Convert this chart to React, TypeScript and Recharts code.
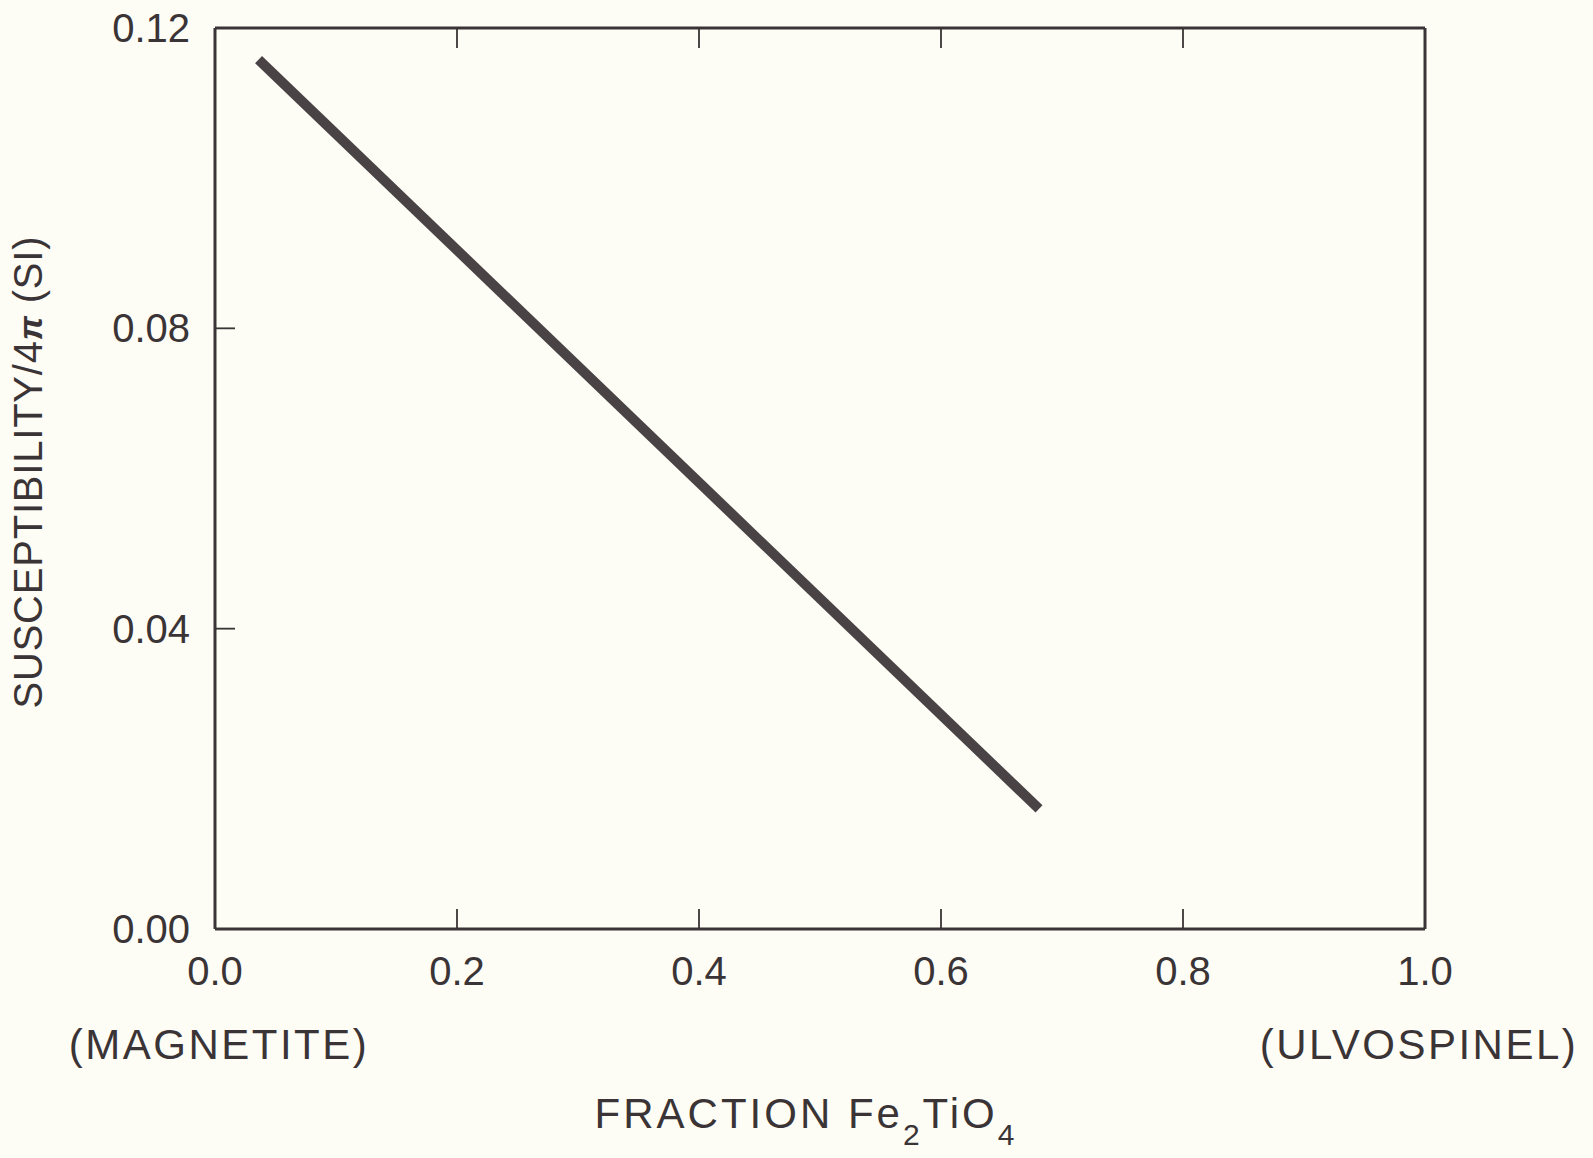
import { LineChart, Line, XAxis, YAxis } from 'recharts';

// values
const fraction = [0.036, 0.681];
const susceptibility = [0.1158, 0.016];
const xTicks = [0, 0.2, 0.4, 0.6, 0.8, 1.0];
const innerXTicks = [0.2, 0.4, 0.6, 0.8];
const yTicks = [0, 0.04, 0.08, 0.12];
const innerYTicks = [0.04, 0.08];
const endMemberNames: Record<string, string> = { '0': '(MAGNETITE)', '1': '(ULVOSPINEL)' };
const endMemberShift: Record<string, number> = { '0': 4, '1': -6 };

const data = fraction.map((x, i) => ({ x, y: susceptibility[i] }));

const INK = '#3b3436';
const LINE = '#4a4345';
const BG = '#fdfdf5';
const FONT = '"Liberation Sans", Arial, Helvetica, sans-serif';

const BottomTick = ({ x, y, payload }: any) => {
  const v = payload.value;
  const key = String(v);
  const name = endMemberNames[key];
  return (
    <g>
      {v > 0 && v < 1 && <line x1={x} x2={x} y1={y} y2={y - 20} stroke={INK} strokeWidth={1.8} />}
      <text x={x} y={y + 56} textAnchor="middle" fontSize={40} fill={INK} fontFamily={FONT}>
        {v.toFixed(1)}
      </text>
      {name && (
        <text
          x={x + endMemberShift[key]}
          y={y + 130}
          textAnchor="middle"
          fontSize={42}
          letterSpacing={2.5}
          fill={INK}
          fontFamily={FONT}
        >
          {name}
        </text>
      )}
    </g>
  );
};

const LeftTick = ({ x, y, payload }: any) => {
  const v = payload.value;
  return (
    <g>
      {v > 0 && v < 0.12 && <line x1={x} x2={x + 20} y1={y} y2={y} stroke={INK} strokeWidth={1.8} />}
      <text x={x - 25} y={y + 14} textAnchor="end" fontSize={40} fill={INK} fontFamily={FONT}>
        {v.toFixed(2)}
      </text>
    </g>
  );
};

const TopTick = ({ x, y }: any) => <line x1={x} x2={x} y1={y} y2={y + 20} stroke={INK} strokeWidth={1.8} />;

const RightTick = ({ x, y }: any) => <line x1={x} x2={x - 20} y1={y} y2={y} stroke={INK} strokeWidth={1.8} />;

const YTitle = ({ viewBox }: any) => {
  const cx = viewBox.x + 27;
  const cy = viewBox.y + viewBox.height / 2 - 6;
  return (
    <text
      transform={`rotate(-90 ${cx} ${cy})`}
      x={cx}
      y={cy + 15}
      textAnchor="middle"
      fontSize={40}
      fill={INK}
      fontFamily={FONT}
      textLength={472}
      lengthAdjust="spacing"
    >
      SUSCEPTIBILITY/4<tspan fontStyle="italic" fontWeight="bold" fontSize={34}>π</tspan> (SI)
    </text>
  );
};

const XTitle = ({ viewBox }: any) => {
  const cx = viewBox.x + viewBox.width / 2 - 14;
  const base = viewBox.y + 199;
  return (
    <text x={cx} y={base} textAnchor="middle" fontSize={42} letterSpacing={3} fill={INK} fontFamily={FONT}>
      FRACTION Fe<tspan fontSize={30} dy={17}>2</tspan>
      <tspan dy={-17}>TiO</tspan>
      <tspan fontSize={30} dy={17}>4</tspan>
    </text>
  );
};

export default function App() {
  return (
    <div style={{ position: 'fixed', top: 0, left: 0, width: 1593, height: 1158, background: BG }}>
      <LineChart width={1593} height={1158} data={data} margin={{ top: 27, right: 167, bottom: 0, left: 0 }}>
        <XAxis
          dataKey="x"
          type="number"
          domain={[0, 1]}
          ticks={xTicks}
          height={229}
          tickSize={0}
          tickMargin={0}
          tickLine={false}
          tick={<BottomTick />}
          axisLine={{ stroke: INK, strokeWidth: 3 }}
          label={<XTitle />}
          interval={0}
        />
        <XAxis
          xAxisId="top"
          orientation="top"
          type="number"
          domain={[0, 1]}
          ticks={innerXTicks}
          height={1}
          tickSize={0}
          tickMargin={0}
          tickLine={false}
          tick={<TopTick />}
          axisLine={{ stroke: INK, strokeWidth: 3 }}
          interval={0}
        />
        <YAxis
          type="number"
          domain={[0, 0.12]}
          ticks={yTicks}
          width={215}
          tickSize={0}
          tickMargin={0}
          tickLine={false}
          tick={<LeftTick />}
          axisLine={{ stroke: INK, strokeWidth: 3 }}
          label={<YTitle />}
          interval={0}
        />
        <YAxis
          yAxisId="right"
          orientation="right"
          type="number"
          domain={[0, 0.12]}
          ticks={innerYTicks}
          width={1}
          tickSize={0}
          tickMargin={0}
          tickLine={false}
          tick={<RightTick />}
          axisLine={{ stroke: INK, strokeWidth: 3 }}
          interval={0}
        />
        <Line
          type="linear"
          dataKey="y"
          stroke={LINE}
          strokeWidth={10}
          dot={false}
          activeDot={false}
          isAnimationActive={false}
        />
      </LineChart>
    </div>
  );
}
